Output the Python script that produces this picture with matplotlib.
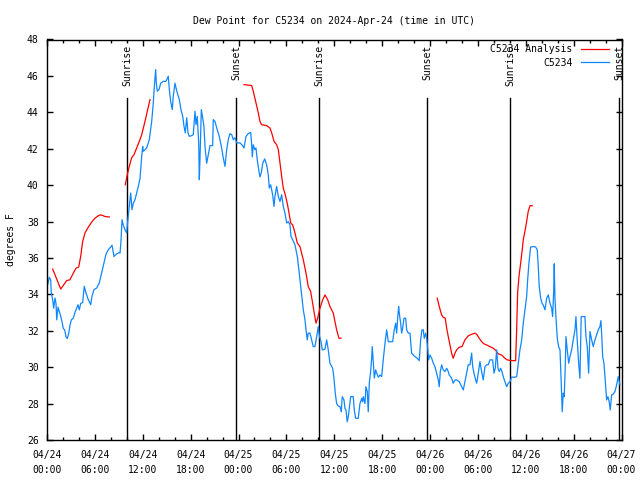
import numpy as np
import matplotlib
matplotlib.use("Agg")
import matplotlib.pyplot as plt
import matplotlib.dates as mdates
import matplotlib.transforms as mtransforms

# hours since 2024-04-24 00:00 UTC
obs_hours = [0.04, 0.29, 0.46, 0.54, 0.71, 0.84, 1.00, 1.13, 1.22, 1.38, 1.54, 1.72, 1.88, 2.04, 2.22, 2.38,
             2.54, 2.72, 2.88, 3.05, 3.30, 3.47, 3.72, 3.88, 4.05, 4.22, 4.47, 4.67, 4.89, 5.18, 5.48, 5.64,
             5.89, 6.23, 6.55, 6.85, 7.14, 7.39, 7.68, 7.98, 8.15, 8.40, 8.65, 9.06, 9.15, 9.27, 9.40, 9.56,
             9.77, 9.99, 10.11, 10.31, 10.49, 10.65, 10.81, 11.03, 11.24, 11.44, 11.65, 11.87, 11.99, 12.07,
             12.49, 12.82, 13.12, 13.32, 13.45, 13.62, 13.70, 13.82, 14.04, 14.25, 14.57, 14.91, 15.20, 15.33,
             15.50, 15.70, 15.83, 16.04, 16.17, 16.33, 16.58, 16.79, 17.01, 17.17, 17.33, 17.51, 17.67, 17.83,
             18.13, 18.33, 18.55, 18.67, 18.83, 19.01, 19.09, 19.17, 19.34, 19.51, 19.67, 19.80, 20.01, 20.21,
             20.43, 20.76, 20.84, 21.05, 21.27, 21.59, 21.89, 22.09, 22.31, 22.52, 22.72, 22.93, 23.15, 23.35,
             23.56, 23.77, 24.19, 24.52, 24.69, 24.94, 25.23, 25.53, 25.65, 25.73, 25.85, 26.03, 26.19, 26.35,
             26.53, 26.69, 26.85, 27.03, 27.28, 27.53, 27.73, 27.86, 28.03, 28.28, 28.45, 28.57, 28.78, 28.99,
             29.20, 29.41, 29.61, 29.82, 30.04, 30.24, 30.45, 30.58, 30.79, 31.08, 31.37, 31.58, 31.83, 32.12,
             32.33, 32.46, 32.62, 32.74, 32.96, 33.17, 33.37, 33.58, 33.80, 34.00, 34.12, 34.34, 34.50, 34.84,
             35.05, 35.25, 35.46, 35.80, 35.96, 36.13, 36.30, 36.50, 36.72, 36.88, 37.00, 37.22, 37.34, 37.47,
             37.63, 37.76, 37.88, 38.06, 38.38, 38.51, 38.68, 39.01, 39.22, 39.44, 39.56, 39.64, 39.85, 39.97,
             40.14, 40.26, 40.39, 40.56, 40.69, 40.76, 40.89, 41.02, 41.19, 41.32, 41.52, 41.73, 41.94, 42.14,
             42.36, 42.57, 42.77, 42.98, 43.32, 43.52, 43.70, 43.82, 43.98, 44.07, 44.15, 44.32, 44.45, 44.57,
             44.74, 44.95, 45.08, 45.28, 45.49, 45.70, 45.90, 46.12, 46.40, 46.65, 46.83, 46.99, 47.16, 47.28,
             47.46, 47.58, 47.71, 47.83, 47.99, 48.21, 48.41, 48.62, 48.83, 49.04, 49.16, 49.29, 49.46, 49.66,
             49.87, 50.09, 50.29, 50.41, 50.71, 50.91, 51.13, 51.34, 51.67, 51.97, 52.17, 52.38, 52.59, 52.79,
             53.01, 53.22, 53.35, 53.51, 53.72, 53.85, 54.05, 54.26, 54.47, 54.67, 54.89, 55.10, 55.30, 55.51,
             55.85, 56.02, 56.18, 56.35, 56.52, 56.68, 56.85, 57.02, 57.18, 57.39, 57.61, 57.81, 58.02, 58.23,
             58.65, 58.86, 59.06, 59.27, 59.49, 59.69, 59.90, 60.11, 60.24, 60.40, 60.61, 60.94, 61.24, 61.44,
             61.57, 61.69, 61.87, 62.03, 62.19, 62.41, 62.62, 62.82, 63.03, 63.25, 63.37, 63.50, 63.57, 63.66,
             63.78, 63.95, 64.12, 64.29, 64.45, 64.57, 64.70, 64.82, 64.95, 65.04, 65.20, 65.38, 65.54, 65.75,
             65.95, 66.17, 66.29, 66.45, 66.63, 66.79, 66.95, 67.42, 67.54, 67.71, 67.88, 68.05, 68.26, 68.46,
             68.67, 68.88, 69.08, 69.30, 69.42, 69.55, 69.64, 69.80, 69.96, 70.14, 70.30, 70.46, 70.59, 70.76,
             70.96, 71.18, 71.39, 71.59, 71.80]
obs_dewpt = [34.44, 34.94, 34.8, 34.07, 33.7, 33.24, 33.8, 33.5, 32.6, 33.3, 33.06, 32.8, 32.5, 32.13, 32.04, 31.67,
             31.57, 31.85, 32.3, 32.6, 32.7, 32.96, 33.24, 33.43, 33.15, 33.5, 33.55, 34.44, 34.07, 33.7, 33.43, 33.9,
             34.26, 34.35, 34.63, 35.18, 35.74, 36.2, 36.45, 36.6, 36.7, 36.08, 36.2, 36.3, 36.27, 36.9, 38.1, 37.8,
             37.55, 37.37, 38.0, 38.83, 39.57, 38.65, 39.0, 39.2, 39.57, 39.93, 40.35, 41.58, 42.13, 41.86,
             42.04, 42.5, 43.5, 44.5, 45.43, 46.35, 45.6, 45.16, 45.25, 45.6, 45.7, 45.7, 45.98, 45.25,
             44.6, 44.15, 44.9, 45.6, 45.34, 45.07, 44.7, 44.15, 43.78, 43.23, 42.87, 43.7, 42.87, 42.68,
             42.72, 42.77, 44.06, 43.32, 43.78, 42.32, 40.3, 41.4, 44.15, 43.7, 43.23, 42.13, 41.2, 41.67,
             42.17, 42.17, 43.6, 43.5, 43.14, 42.68, 42.04, 41.5, 41.03, 41.95, 42.5, 42.83, 42.77, 42.5,
             42.6, 42.32, 42.32, 42.17, 42.04, 42.68, 42.83, 42.9, 42.22, 41.55, 42.22, 41.95, 42.04, 41.4,
             40.85, 40.45, 40.67, 41.2, 41.44, 41.12, 40.57, 39.84, 40.02, 39.47, 38.83, 39.38, 39.93, 39.38,
             39.1, 39.47, 38.83, 38.47, 37.92, 38.0, 37.82, 37.18, 37.0, 36.72, 36.08, 35.3, 34.3, 33.15,
             32.6, 32.05, 31.5, 31.87, 31.87, 31.5, 31.13, 31.13, 31.68, 32.23, 31.77, 31.4, 30.95, 30.99,
             31.5, 30.95, 30.22, 29.94, 29.4, 28.57, 28.0, 27.87, 27.83, 27.55, 28.38, 28.2, 27.74, 27.65,
             27.0, 27.28, 27.74, 28.38, 28.38, 27.65, 27.19, 27.19, 28.0, 28.29, 28.1, 28.38, 28.0, 28.93,
             28.66, 27.55, 29.12, 29.76, 30.49, 31.13, 30.31, 29.4, 29.85, 29.67, 29.45, 29.57, 29.48, 30.4,
             31.32, 32.05, 31.4, 31.4, 31.4, 32.05, 32.42, 31.87, 32.87, 33.33, 32.97, 32.42, 31.87, 32.14,
             32.69, 32.69, 32.05, 31.87, 31.87, 30.77, 30.67, 30.58, 30.49, 30.36, 31.5, 32.05, 32.05, 31.59,
             31.87, 31.59, 31.04, 30.4, 30.67, 30.49, 30.22, 30.03, 29.67, 29.3, 28.93, 29.76, 30.13, 29.85,
             29.76, 29.94, 29.76, 29.57, 29.4, 29.12, 29.3, 29.3, 29.2, 28.93, 28.75, 29.2, 29.67, 30.13,
             30.13, 30.77, 30.03, 29.67, 29.3, 29.12, 29.67, 30.31, 29.76, 29.3, 30.03, 30.13, 30.13, 30.4,
             30.4, 29.67, 29.94, 30.95, 29.94, 29.76, 29.94, 29.76, 29.48, 29.2, 28.93, 29.12, 29.2, 29.45,
             29.45, 29.48, 30.22, 30.95, 31.5, 32.42, 33.15, 33.88, 34.8, 35.72, 36.6, 36.63, 36.6, 36.45,
             35.53, 34.43, 33.79, 33.52, 33.42, 33.15, 33.79, 33.97, 33.52, 33.24, 32.78, 34.16, 35.68, 33.79,
             32.78, 31.59, 31.13, 30.95, 29.12, 27.55, 28.57, 28.38, 30.03, 31.68, 30.95, 30.22, 30.58, 30.95,
             31.5, 32.05, 32.78, 31.5, 30.22, 29.39, 32.78, 32.78, 31.68, 31.13, 29.67, 31.96, 31.5, 31.13,
             31.5, 31.77, 32.05, 32.23, 32.56, 31.5, 30.58, 30.22, 29.3, 28.2, 28.38, 28.1, 27.65, 28.47,
             28.52, 28.66, 29.03, 29.48, 29.03]

# analysis series, broken into segments where it has gaps
ana_hours = [
    [0.71, 1.72, 2.47, 2.88, 3.30, 3.63, 3.97, 4.22, 4.47, 4.76, 5.18, 5.60, 6.02, 6.43, 6.73, 7.27, 7.81],
    [9.81, 10.06, 10.31, 10.61, 10.90, 11.24, 11.57, 11.87, 12.28, 12.57, 12.91],
    [24.69, 25.65, 25.85, 26.19, 26.48, 26.69, 26.90, 27.53, 27.94, 28.16, 28.45, 28.78, 28.99, 29.20,
     29.41, 29.61, 29.86, 30.11, 30.33, 30.54, 30.79, 31.08, 31.37, 31.70, 32.12, 32.46, 32.74, 33.04,
     33.29, 33.46, 33.71, 33.92, 34.21, 34.55, 34.84, 35.18, 35.46, 35.88, 36.09, 36.30, 36.59, 36.84],
    [48.91, 49.16, 49.46, 49.66, 49.91, 50.09, 50.29, 50.50, 50.71, 50.91, 51.13, 51.34, 51.67, 52.01,
     52.38, 52.79, 53.22, 53.63, 53.85, 54.17, 54.47, 54.76, 55.10, 55.51, 55.93, 56.27, 56.55, 56.98,
     57.39, 57.68, 58.23, 58.73, 58.86, 58.98, 59.15, 59.36, 59.56, 59.69, 59.90, 60.11, 60.31, 60.53, 60.81],
]
ana_dewpt = [
    [35.39, 34.29, 34.76, 34.8, 35.17, 35.44, 35.5, 36.08, 36.9, 37.37, 37.7, 37.97, 38.19, 38.32, 38.37, 38.28, 38.25],
    [40.02, 40.57, 41.03, 41.5, 41.67, 42.04, 42.41, 42.77, 43.5, 44.06, 44.7],
    [45.52, 45.47, 45.16, 44.52, 43.97, 43.5, 43.32, 43.27, 43.14, 42.87, 42.41, 42.22, 41.95, 41.22,
     40.48, 39.84, 39.47, 39.0, 38.47, 37.92, 37.82, 37.37, 36.82, 36.63, 35.9, 35.17, 34.43, 34.16,
     33.52, 33.06, 32.42, 32.7, 33.24, 33.7, 33.97, 33.7, 33.33, 32.97, 32.5, 32.05, 31.59, 31.59],
    [33.79, 33.33, 32.87, 32.74, 32.69, 32.14, 31.68, 31.22, 30.77, 30.49, 30.77, 30.95, 31.1, 31.13,
     31.5, 31.72, 31.81, 31.87, 31.81, 31.59, 31.4, 31.28, 31.22, 31.13, 31.04, 30.91, 30.73, 30.67,
     30.49, 30.4, 30.36, 30.36, 32.05, 34.07, 34.98, 35.72, 36.45, 37.0, 37.46, 38.0, 38.56, 38.87, 38.87],
]

sun_hours = [10.06, 23.68, 34.12, 47.66, 58.06, 71.72]
sun_labels = ["Sunrise", "Sunset", "Sunrise", "Sunset", "Sunrise", "Sunset"]

start = np.datetime64("2024-04-24T00:00")


def to_time(hours):
    return start + (np.asarray(hours) * 3600).astype("timedelta64[s]")


plt.rcParams["font.family"] = "DejaVu Sans Mono"
plt.rcParams["font.size"] = 7

fig = plt.figure(figsize=(6.4, 4.8), dpi=100)
ax = fig.add_axes([47 / 640, 1 - 440 / 480, 574.5 / 640, 400.5 / 480])

blend = mtransforms.blended_transform_factory(ax.transData, ax.transAxes)
for h, lab in zip(sun_hours, sun_labels):
    t = to_time(h)
    ax.axvline(t, ymin=0, ymax=0.855, color="black", lw=1.0)
    ax.text(t, 0.987, lab, transform=blend, rotation=90, ha="center", va="top", fontsize=7)

for i, (th, tv) in enumerate(zip(ana_hours, ana_dewpt)):
    ax.plot(to_time(th), tv, color="#ff0000", lw=0.9, label="C5234 Analysis" if i == 0 else None)
ax.plot(to_time(obs_hours), obs_dewpt, color="#0f87ff", lw=0.9, label="C5234")

ax.set_xlim(start, start + np.timedelta64(72, "h"))
ax.set_ylim(26, 48)
ax.set_yticks(np.arange(26, 49, 2))
ax.xaxis.set_major_locator(mdates.HourLocator(byhour=[0, 6, 12, 18]))
ax.xaxis.set_minor_locator(mdates.HourLocator(byhour=range(0, 24, 2)))
ax.xaxis.set_major_formatter(mdates.DateFormatter("%m/%d\n%H:%M"))
ax.tick_params(which="both", direction="in", top=True, right=True, width=1)
ax.tick_params(which="major", length=4)
ax.tick_params(which="minor", length=2.5)
ax.tick_params(axis="x", which="major", pad=7)
ax.tick_params(axis="y", which="major", pad=6)
for s in ax.spines.values():
    s.set_linewidth(1)

ax.set_title("Dew Point for C5234 on 2024-Apr-24 (time in UTC)", fontsize=7, pad=11)
ax.set_ylabel("degrees F", labelpad=8)

ax.legend(loc="upper right", bbox_to_anchor=(1 - 5 / 574.5, 1 + 3 / 400.5), frameon=False,
          markerfirst=False, handlelength=2.9, handletextpad=0.8, labelspacing=0.35,
          borderaxespad=0.4, fontsize=7)

fig.canvas.draw()
for lab in ax.get_xticklabels():
    lab.set_linespacing(1.6)

fig.savefig("out.png", dpi=100)
